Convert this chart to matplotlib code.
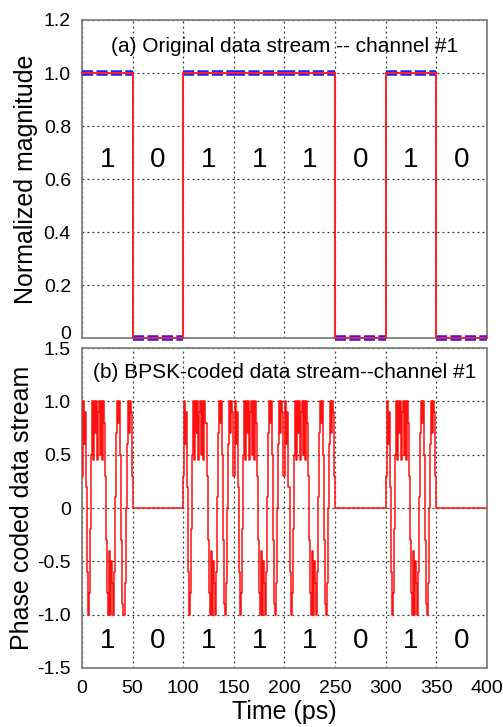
import matplotlib
matplotlib.use("Agg")
import matplotlib.pyplot as plt
import matplotlib.transforms as mtransforms
import numpy as np

plt.rcParams['font.family'] = ['Liberation Sans', 'DejaVu Sans']

# ---- data ----
bits = [1, 0, 1, 1, 1, 0, 1, 0]
bit_period = 50  # ps
bit_labels = ["1", "0", "1", "1", "1", "0", "1", "0"]

bpsk_template = [0.3, 1.0, 0.6, 0.9, 0.2, -0.6, -1.0, -0.8, -0.2, 0.5,
                 1.0, 0.45, 1.0, 0.7, 1.0, 0.45, 0.9, 1.0, 0.5, 1.0,
                 0.45, 1.0, 0.8, 0.3, -0.3, -0.8, -1.0, -0.4, -1.0, -0.5,
                 -0.7, -1.0, -0.6, 0.1, 0.7, 1.0, 0.8, 1.0, 0.5, -0.3,
                 -0.9, -1.0, -0.7, 0.0, 0.6, 1.0, 0.7, 1.0, 0.9, 0.3]

top_yticks = [0, 0.2, 0.4, 0.6, 0.8, 1.0, 1.2]
top_yticklabels = ["0", "0.2", "0.4", "0.6", "0.8", "1.0", "1.2"]
bot_yticks = [-1.5, -1.0, -0.5, 0, 0.5, 1.0, 1.5]
bot_yticklabels = ["-1.5", "-1.0", "-0.5", "0", "0.5", "1.0", "1.5"]
xticks = [0, 50, 100, 150, 200, 250, 300, 350, 400]

# ---- build series from data ----
t_bits = [i * bit_period for i in range(len(bits) + 1)]
v_bits = bits + [bits[-1]]

t_bpsk = []
v_bpsk = []
for i, b in enumerate(bits):
    for k, val in enumerate(bpsk_template):
        t_bpsk.append(i * bit_period + k)
        v_bpsk.append(val if b else 0.0)
t_bpsk.append(len(bits) * bit_period)
v_bpsk.append(0.0)

fig = plt.figure(figsize=(5.03, 7.27), dpi=100)
ax1 = fig.add_axes([0.163, 0.535, 0.805, 0.4375])
ax2 = fig.add_axes([0.163, 0.0812, 0.805, 0.440])

spine_col = '#808080'
for ax in (ax1, ax2):
    for s in ax.spines.values():
        s.set_color(spine_col)
        s.set_linewidth(1.3)
    ax.grid(True, linestyle=(0, (1.5, 2.5)), color='#333333', linewidth=0.9)
    ax.set_axisbelow(True)
    ax.tick_params(direction='in', length=0, labelsize=14, colors='black')
    ax.tick_params(axis='y', pad=8)
    ax.tick_params(axis='x', pad=9)
    ax.set_xlim(0, 400)
    ax.set_xticks(xticks)

# top panel: blue dashed levels (horizontal only), red solid step on top
for i, b in enumerate(bits):
    ax1.hlines(b, i * bit_period, (i + 1) * bit_period, color='#2020ff', linewidth=4,
               linestyle=(0, (2.0, 0.6)), clip_on=False, zorder=3)
ax1.step(t_bits, v_bits, where='post', color='#ff2020', linewidth=1.4,
         clip_on=False, zorder=4)
ax1.set_ylim(0, 1.2)
ax1.set_yticks(top_yticks)
ax1.set_yticklabels(top_yticklabels)
ax1.set_xticklabels([])
ax1.set_ylabel("Normalized magnitude", fontsize=18, labelpad=4)
ax1.text(200, 1.1, "(a) Original data stream -- channel #1", ha='center', va='center', fontsize=15)
for i, lab in enumerate(bit_labels):
    ax1.text(i * bit_period + bit_period / 2, 0.67, lab, ha='center', va='center', fontsize=20)
# lift the "0" tick label a little, as in the reference
lab0 = ax1.get_yticklabels()[0]
lab0.set_transform(lab0.get_transform() + mtransforms.ScaledTranslation(0, 6 / 100, fig.dpi_scale_trans))

# bottom panel
ax2.step(t_bpsk, v_bpsk, where='post', color='#ff1010', linewidth=1.1, zorder=3)
ax2.set_ylim(-1.5, 1.5)
ax2.set_yticks(bot_yticks)
ax2.set_yticklabels(bot_yticklabels)
ax2.set_xticklabels([str(x) for x in xticks])
ax2.set_ylabel("Phase coded data stream", fontsize=18, labelpad=2)
ax2.set_xlabel("Time (ps)", fontsize=18, labelpad=2)
ax2.text(200, 1.27, "(b) BPSK-coded data stream--channel #1", ha='center', va='center', fontsize=15)
for i, lab in enumerate(bit_labels):
    ax2.text(i * bit_period + bit_period / 2, -1.25, lab, ha='center', va='center', fontsize=20)

fig.savefig("out.png", dpi=100)
